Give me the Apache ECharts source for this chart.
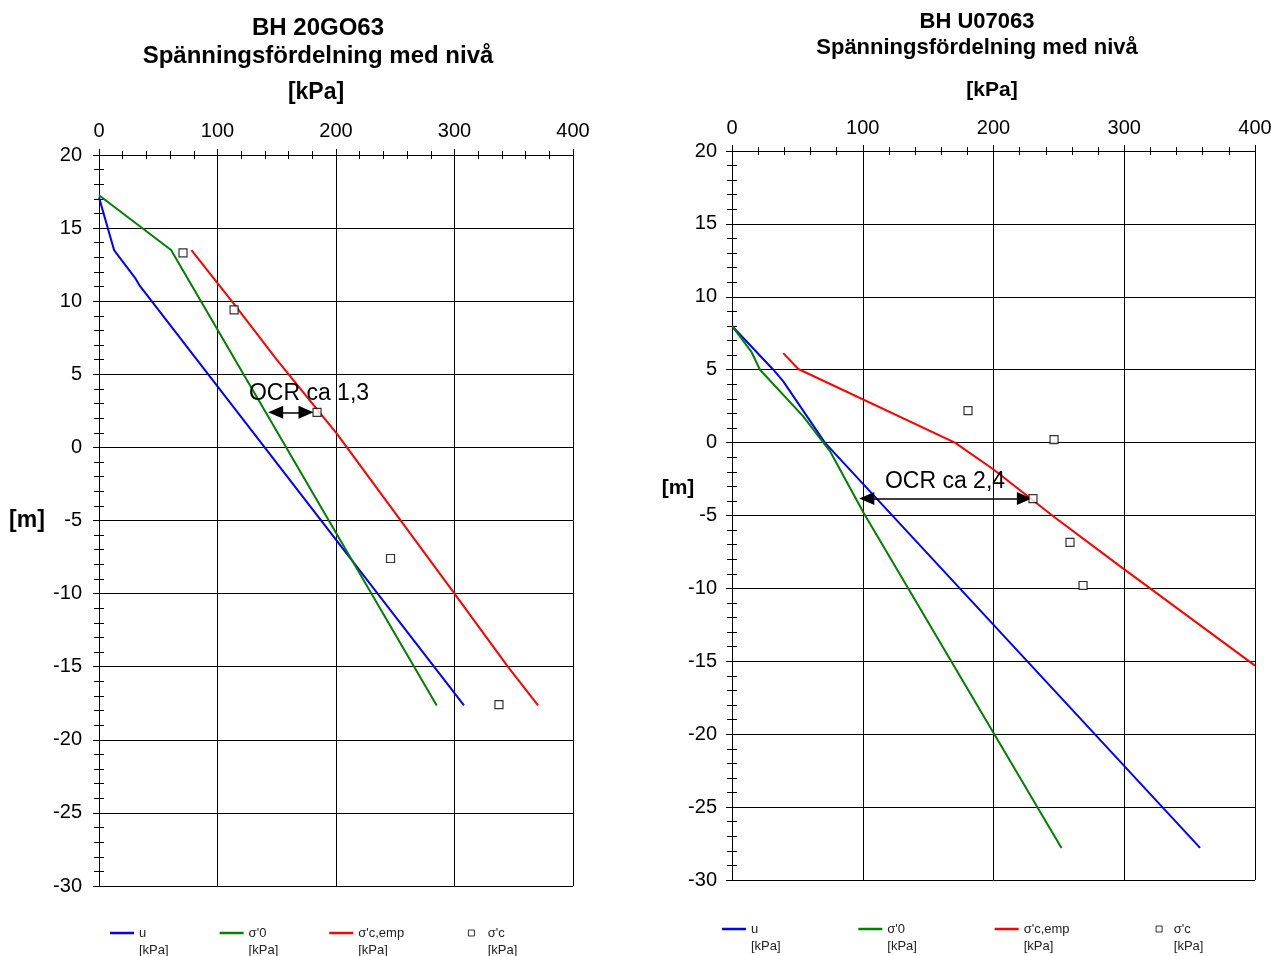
<!DOCTYPE html>
<html>
<head>
<meta charset="utf-8">
<script src="https://cdn.jsdelivr.net/npm/echarts@6/dist/echarts.min.js"></script>
<style>
  html, body { margin: 0; padding: 0; background: #fff; }
  #chart { width: 1271px; height: 956px; }
</style>
</head>
<body>
<div id="chart"></div>
<script>
// ---- BH 20GO63: [kPa, level m] ----
const bh1U      = [[0, 17.1], [12.7, 13.5], [30.4, 11.6], [34, 11.1], [308, -17.65]];
const bh1Sig0   = [[0, 17.25], [60.8, 13.5], [285, -17.65]];
const bh1SigEmp = [[78, 13.5], [115, 9.7], [150, 6.0], [200.5, 0.96], [300, -10], [345, -15], [370.5, -17.65]];
const bh1SigC   = [[70.9, 13.3], [114, 9.4], [184, 2.4], [246, -7.6], [337.5, -17.6]];
const bh1Arrow  = [[149.1, 2.4], [174.7, 2.4]];
const bh1Note   = { text: 'OCR ca 1,3', at: [177.2, 3.69] };

// ---- BH U07063: [kPa, level m] ----
const bh2U      = [[0, 8], [31.6, 5], [39.2, 4.2], [71, 0], [358, -27.8]];
const bh2Sig0   = [[0, 8], [15, 6.2], [21.4, 5], [54.5, 1.8], [75, -0.6], [100.5, -4.8], [252, -27.8]];
const bh2SigEmp = [[39.2, 6.14], [50.7, 5.05], [170.5, 0], [199.8, -1.83], [245.7, -5.05], [296.7, -8.47], [400, -15.3]];
const bh2SigC   = [[180.5, 2.19], [246.3, 0.2], [230.2, -3.84], [258.5, -6.85], [268.5, -9.8]];
const bh2Arrow  = [[103.1, -3.84], [223.6, -3.84]];
const bh2Note   = { text: 'OCR ca 2,4', at: [162.9, -2.67] };

// ---- axis ranges ----
const kpaRange   = { min: 0, max: 400, step: 100 };
const levelRange = { min: -30, max: 20, step: 5 };

const seriesNames = ['u', "σ'0", "σ'c,emp", "σ'c"];
const FONT = '"Liberation Sans", Arial, sans-serif';
const BLACK = '#000';

const grids = [
  { left: 99,  top: 155, width: 474, height: 731, xMargin: 14, yMargin: 17 },
  { left: 732, top: 151, width: 523, height: 729, xMargin: 13, yMargin: 15 }
];

function xAxes(gi, g) {
  const base = { gridIndex: gi, type: 'value', min: kpaRange.min, max: kpaRange.max, interval: kpaRange.step };
  return [
    Object.assign({}, base, {
      position: 'top',
      axisLine: { show: true, onZero: false, lineStyle: { color: BLACK, width: 1 } },
      axisTick: { show: true, length: 6, lineStyle: { color: BLACK, width: 1 } },
      minorTick: { show: true, splitNumber: 5, length: 4, lineStyle: { color: BLACK, width: 1 } },
      axisLabel: { fontSize: 20, color: BLACK, margin: g.xMargin, fontFamily: FONT },
      splitLine: { show: true, lineStyle: { color: BLACK, width: 1 } }
    }),
    // minor ticks on the inner side of the top axis line
    Object.assign({}, base, {
      position: 'bottom', offset: -g.height,
      axisLine: { show: false, onZero: false },
      axisTick: { show: false },
      minorTick: { show: true, splitNumber: 5, length: 4, lineStyle: { color: BLACK, width: 1 } },
      axisLabel: { show: false },
      splitLine: { show: false }
    })
  ];
}

function yAxes(gi, g) {
  const base = { gridIndex: gi, type: 'value', min: levelRange.min, max: levelRange.max, interval: levelRange.step };
  return [
    Object.assign({}, base, {
      position: 'left',
      axisLine: { show: true, onZero: false, lineStyle: { color: BLACK, width: 1 } },
      axisTick: { show: true, length: 6, lineStyle: { color: BLACK, width: 1 } },
      minorTick: { show: true, splitNumber: 5, length: 5, lineStyle: { color: BLACK, width: 1 } },
      axisLabel: { fontSize: 20, color: BLACK, margin: g.yMargin, fontFamily: FONT },
      splitLine: { show: true, lineStyle: { color: BLACK, width: 1 } }
    }),
    // minor ticks on the inner side of the left axis line
    Object.assign({}, base, {
      position: 'right', offset: -g.width,
      axisLine: { show: false, onZero: false },
      axisTick: { show: false },
      minorTick: { show: true, splitNumber: 5, length: 5, lineStyle: { color: BLACK, width: 1 } },
      axisLabel: { show: false },
      splitLine: { show: false }
    })
  ];
}

function lineSeries(name, data, color, xi, yi) {
  return {
    name, type: 'line', data, xAxisIndex: xi, yAxisIndex: yi,
    symbol: 'none', silent: true, z: 3,
    lineStyle: { color, width: 2 }, itemStyle: { color }
  };
}

function pointSeries(data, arrow, note, xi, yi) {
  return {
    name: seriesNames[3], type: 'scatter', data, xAxisIndex: xi, yAxisIndex: yi,
    symbol: 'rect', symbolSize: 8, silent: true, z: 5,
    itemStyle: { color: '#fff', borderColor: BLACK, borderWidth: 1.2 },
    markLine: {
      silent: true, symbol: ['triangle', 'triangle'], symbolSize: [13, 15],
      lineStyle: { color: BLACK, width: 1.5, type: 'solid' },
      itemStyle: { color: BLACK },
      label: { show: false },
      emphasis: { disabled: true },
      data: [[{ coord: arrow[0] }, { coord: arrow[1] }]]
    },
    markPoint: {
      silent: true, symbol: 'rect', symbolSize: 1,
      itemStyle: { color: 'rgba(0,0,0,0)' },
      label: { show: true, position: 'inside', formatter: '{b}', fontSize: 23, color: BLACK, fontFamily: FONT },
      data: [{ name: note.text, coord: note.at }]
    }
  };
}

// legend text: blank first line so the series name sits level with the icon, unit underneath
const legendText = { fontSize: 13, lineHeight: 17, color: '#222', fontFamily: FONT };
const legendFormat = n => ' \n' + n + '\n[kPa]';

function lineLegend(left, top, gap) {
  return {
    left, top, padding: 0, orient: 'horizontal', itemGap: gap,
    itemWidth: 24, itemHeight: 2.5, selectedMode: false,
    data: seriesNames.slice(0, 3).map(n => ({ name: n, icon: 'rect' })),
    formatter: legendFormat,
    textStyle: legendText
  };
}
function pointLegend(left, top, w) {
  return {
    left, top, padding: 0, itemWidth: w, itemHeight: 6, selectedMode: false,
    data: [{ name: seriesNames[3], icon: 'path://M0,0H10V10H0Z' }],
    itemStyle: { color: '#fff', borderColor: BLACK, borderWidth: 1 },
    formatter: legendFormat,
    textStyle: legendText
  };
}

function label(text, x, y, size) {
  return {
    type: 'text', x, y, silent: true,
    style: { text, font: 'bold ' + size + 'px ' + FONT, fill: BLACK,
             align: 'center', verticalAlign: 'middle', textAlign: 'center', textVerticalAlign: 'middle' }
  };
}

const option = {
  animation: false,
  backgroundColor: '#fff',
  grid: grids.map(g => ({ left: g.left, top: g.top, width: g.width, height: g.height, containLabel: false, outerBoundsMode: 'none' })),
  xAxis: [].concat(xAxes(0, grids[0]), xAxes(1, grids[1])),
  yAxis: [].concat(yAxes(0, grids[0]), yAxes(1, grids[1])),
  legend: [
    lineLegend(110, 907.5, 51),
    pointLegend(467.9, 907.5, 22.6),
    lineLegend(722, 903.5, 77.7),
    pointLegend(1155.6, 903.5, 19.4)
  ],
  graphic: [
    label('BH 20GO63', 318, 28, 24),
    label('Spänningsfördelning med nivå', 318, 56, 24),
    label('[kPa]', 316, 93, 23),
    label('[m]', 27, 521, 23),
    label('BH U07063', 977, 22, 22),
    label('Spänningsfördelning med nivå', 977, 48, 22),
    label('[kPa]', 992, 90, 21),
    label('[m]', 678, 488, 21)
  ],
  series: [
    lineSeries(seriesNames[0], bh1U, '#0000ff', 0, 0),
    lineSeries(seriesNames[1], bh1Sig0, '#008000', 0, 0),
    lineSeries(seriesNames[2], bh1SigEmp, '#ff0000', 0, 0),
    pointSeries(bh1SigC, bh1Arrow, bh1Note, 0, 0),
    lineSeries(seriesNames[0], bh2U, '#0000ff', 2, 2),
    lineSeries(seriesNames[1], bh2Sig0, '#008000', 2, 2),
    lineSeries(seriesNames[2], bh2SigEmp, '#ff0000', 2, 2),
    pointSeries(bh2SigC, bh2Arrow, bh2Note, 2, 2)
  ]
};

const chart = echarts.init(document.getElementById('chart'), null, { renderer: 'canvas' });
chart.setOption(option);
</script>
</body>
</html>
